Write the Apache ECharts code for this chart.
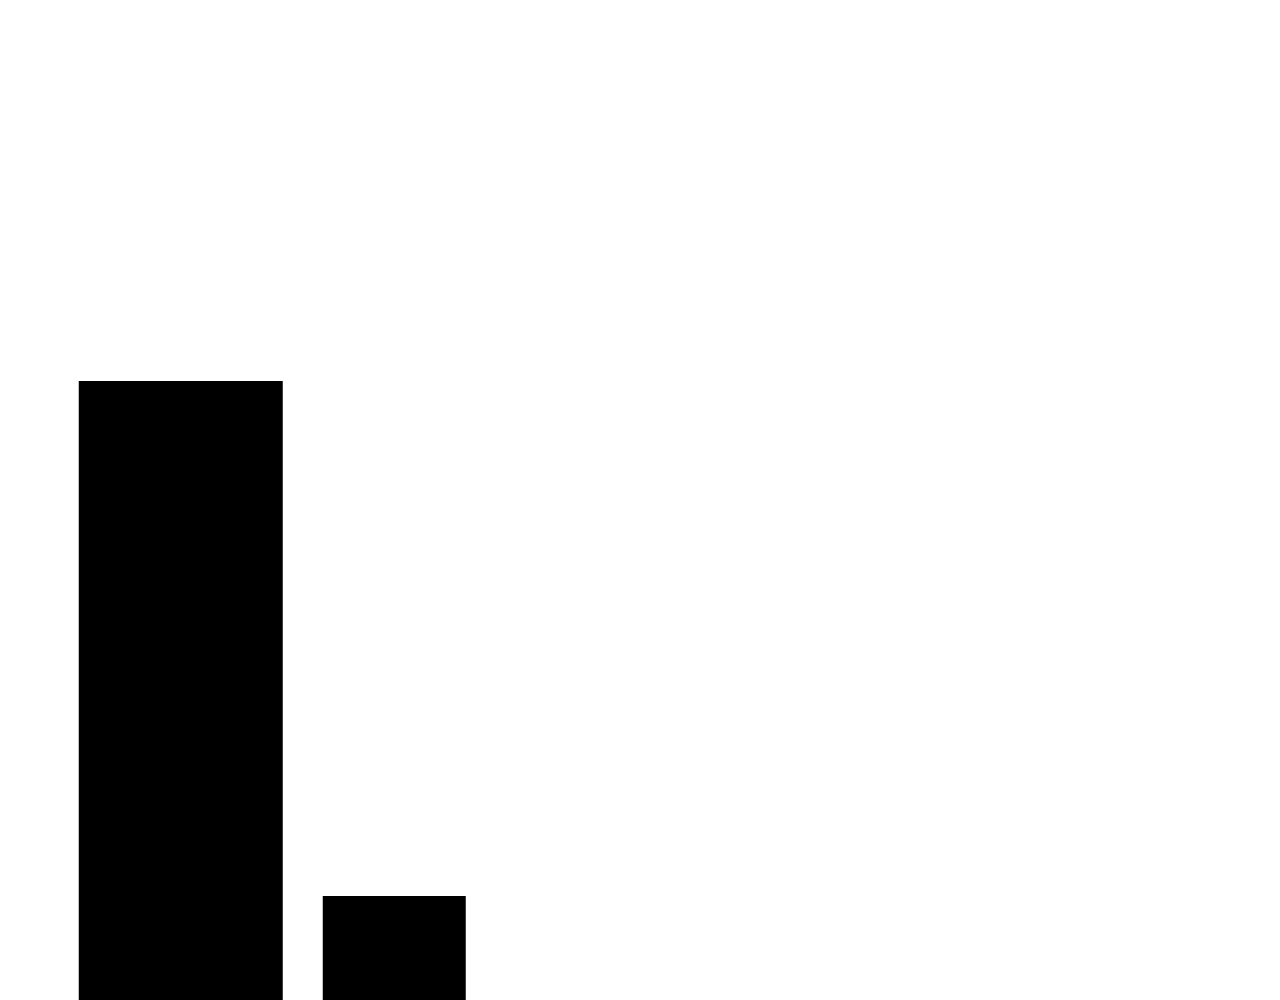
<!DOCTYPE html>
<html>
<head>
<meta charset="utf-8">
<script src="https://cdn.jsdelivr.net/npm/echarts@6/dist/echarts.min.js"></script>
<style>
    html, body { margin: 0; padding: 0; background: #fff; }
    #chart { width: 1280px; height: 1000px; }
</style>
</head>
<body>
<div id="chart"></div>
<script>
// Categorias y valores (leídos a ojo, eje sin etiquetas)
const categorias = ['A', 'B'];
const valoresA = [61.9, '-'];
const valoresB = ['-', 10.4];

const getOption = () => {
    return {
        animation: false,
        backgroundColor: '#fff',
        grid: {
            left: 74,
            right: 779,
            top: 0,
            bottom: 0
        },
        xAxis: [
            { type: 'category', data: categorias, show: false },
            { type: 'category', data: categorias, show: false }
        ],
        yAxis: {
            type: 'value',
            min: 0,
            max: 100,
            show: false,
            splitLine: { show: false }
        },
        series: [
            {
                type: 'bar',
                xAxisIndex: 0,
                data: valoresA,
                barWidth: 204,
                itemStyle: { color: '#000' }
            },
            {
                type: 'bar',
                xAxisIndex: 1,
                data: valoresB,
                barWidth: 143,
                itemStyle: { color: '#000' }
            }
        ]
    };
};

const chart = echarts.init(document.getElementById('chart'));
chart.setOption(getOption());
</script>
</body>
</html>
